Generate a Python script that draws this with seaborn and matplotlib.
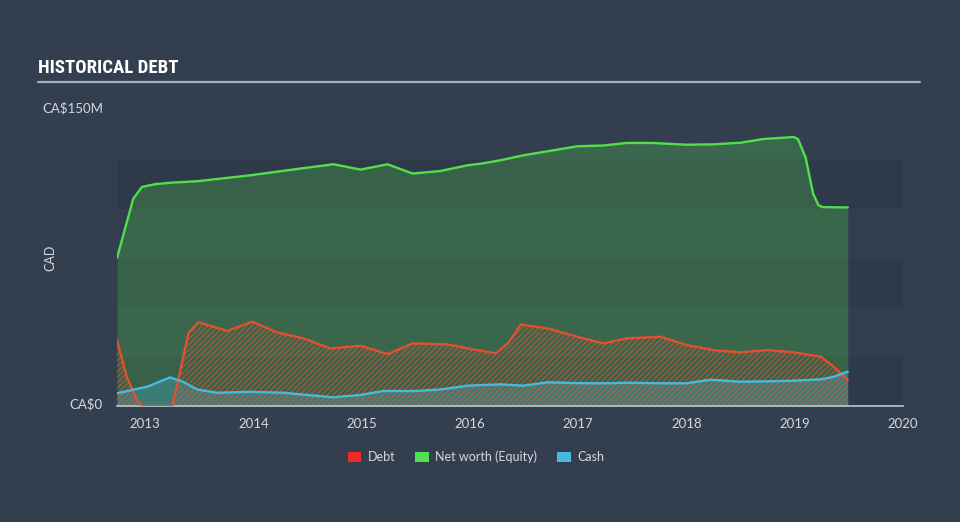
import matplotlib
matplotlib.use("Agg")
import matplotlib.pyplot as plt
from matplotlib.patches import Patch
import seaborn as sns
import pandas as pd

# ---- data (CA$ millions, decimal years) ----
nw_x = [2012.74, 2012.82, 2012.89, 2012.97, 2013.1, 2013.25, 2013.48, 2013.97, 2014.43, 2014.74,
        2014.99, 2015.24, 2015.47, 2015.73, 2015.98, 2016.1, 2016.28, 2016.49, 2016.99,
        2017.23, 2017.45, 2017.69, 2018.0, 2018.25, 2018.5, 2018.71, 2018.99, 2019.03, 2019.1,
        2019.17, 2019.22, 2019.26, 2019.49]
nw_y = [75, 91, 105, 111, 112.5, 113.2, 113.9, 116.9, 120.3, 122.5,
        119.8, 122.5, 117.8, 119.1, 122, 122.8, 124.5, 127, 131.6,
        132, 133.3, 133.3, 132.4, 132.6, 133.4, 135.3, 136.3, 135.3, 126,
        107.6, 101.7, 100.8, 100.6]

debt_x = [2012.74, 2012.83, 2012.93, 2012.98, 2013.25, 2013.32, 2013.4, 2013.49, 2013.76,
          2013.99, 2014.22, 2014.46, 2014.71, 2014.99, 2015.24, 2015.47, 2015.79, 2016.03,
          2016.24, 2016.35, 2016.47, 2016.72, 2016.99, 2017.23, 2017.45, 2017.76, 2018.0,
          2018.25, 2018.5, 2018.75, 2018.99, 2019.24, 2019.36, 2019.49]
debt_y = [33.4, 14.8, 2.2, 0, 0, 16.7, 36.9, 42.5, 38.1,
          42.7, 37.3, 34.3, 29.2, 30.5, 26.3, 31.7, 31.2, 28.7,
          26.7, 31.7, 41.3, 39.3, 35.1, 31.7, 34.3, 35.1, 30.9,
          28.3, 27.2, 28.3, 27.2, 25, 19.9, 13.2]

cash_x = [2012.74, 2013.02, 2013.23, 2013.35, 2013.48, 2013.66, 2013.97, 2014.28, 2014.49,
          2014.74, 2014.99, 2015.2, 2015.51, 2015.73, 2015.98, 2016.28, 2016.49, 2016.72,
          2016.99, 2017.27, 2017.45, 2017.76, 2018.0, 2018.22, 2018.5, 2018.75, 2018.99,
          2019.24, 2019.36, 2019.49]
cash_y = [6.4, 9.8, 14.5, 12.3, 8.4, 6.7, 7.2, 6.7, 5.6,
          4.4, 5.6, 7.6, 7.6, 8.4, 10.3, 11, 10.3, 12,
          11.6, 11.5, 11.8, 11.5, 11.5, 13.3, 12.3, 12.5, 12.8,
          13.5, 14.8, 17.4]

year_ticks = [2013, 2014, 2015, 2016, 2017, 2018, 2019, 2020]
series_names = ["Debt", "Net worth (Equity)", "Cash"]

# ---- style ----
BG = "#333f4f"
DARK_BAND = "#2e3949"
LIGHT_BAND = "#323e4e"
TXT = "#d4d8dd"
C_DEBT = "#e2502f"
C_NW = "#52e04a"
C_CASH = "#4ab9de"
LEG_COLORS = ["#ee2a2a", "#4fe04f", "#48b9de"]

sns.set_theme(style="dark")
plt.rcParams["font.family"] = ["Lato", "DejaVu Sans"]
plt.rcParams["hatch.linewidth"] = 0.9

fig = plt.figure(figsize=(9.6, 5.22), dpi=100, facecolor=BG)
ax = fig.add_axes([117 / 960, 116 / 522, 786 / 960, 296 / 522])
ax.set_facecolor(BG)

# horizontal bands
for i, lo in enumerate(range(0, 125, 25)):
    ax.axhspan(lo, lo + 25, color=DARK_BAND if i % 2 == 0 else LIGHT_BAND, zorder=0, lw=0)

df_nw = pd.DataFrame({"x": nw_x, "y": nw_y})
df_debt = pd.DataFrame({"x": debt_x, "y": debt_y})
df_cash = pd.DataFrame({"x": cash_x, "y": cash_y})

# fills
ax.fill_between(nw_x, 0, nw_y, color=C_NW, alpha=0.25, lw=0, zorder=1)
ax.fill_between(cash_x, 0, cash_y, color=C_CASH, alpha=0.3, lw=0, zorder=2)
ax.fill_between(debt_x, 0, debt_y, facecolor="none", edgecolor=(0.89, 0.33, 0.2, 0.65),
                hatch="//////", lw=0, zorder=2)

# lines
for df, c, z in [(df_nw, C_NW, 4), (df_debt, C_DEBT, 4), (df_cash, C_CASH, 5)]:
    sns.lineplot(data=df, x="x", y="y", ax=ax, color=c, lw=1.7, estimator=None, sort=False,
                 zorder=z, solid_joinstyle="round", solid_capstyle="round")

ax.set_xlim(2012.74, 2020.0)
ax.set_ylim(0, 150)
ax.set_xticks(year_ticks)
ax.set_xticklabels([str(y) for y in year_ticks], color=TXT, fontsize=9.5)
ax.tick_params(axis="x", direction="out", length=8, width=1, color="#b8bec6", pad=1)
ax.set_yticks([])
ax.set_xlabel("")
ax.set_ylabel("")
for s in ["top", "right", "left"]:
    ax.spines[s].set_visible(False)
ax.spines["bottom"].set_color("#c0c6cc")
ax.spines["bottom"].set_linewidth(1.2)

# y labels
fig.text(103 / 960, 1 - 108 / 522, "CA$150M", ha="right", va="center", color=TXT, fontsize=9.5)
fig.text(103 / 960, 1 - 404 / 522, "CA$0", ha="right", va="center", color=TXT, fontsize=9.5)
fig.text(50 / 960, 1 - 258 / 522, "CAD", ha="center", va="center", rotation=90, color=TXT, fontsize=9)

# title
fig.text(38 / 960, 1 - 68 / 522, "HISTORICAL DEBT", ha="left", va="center", color="white",
         fontsize=13.5, fontweight="bold", fontstretch="condensed",
         family=["Liberation Sans Narrow", "Roboto Condensed", "Open Sans Condensed",
                 "DejaVu Sans Condensed", "DejaVu Sans"])
fig.add_artist(plt.Line2D([38 / 960, 920 / 960], [1 - 82 / 522, 1 - 82 / 522],
                          color="#a8aeb5", lw=1.6, transform=fig.transFigure))

# legend
handles = [Patch(facecolor=c, edgecolor="none", label=n) for c, n in zip(LEG_COLORS, series_names)]
leg = fig.legend(handles=handles, loc="center", bbox_to_anchor=(476 / 960, 1 - 457 / 522), ncol=3,
                 frameon=False, fontsize=9, handlelength=1.1, handleheight=0.9, handletextpad=0.5,
                 columnspacing=1.6)
for t in leg.get_texts():
    t.set_color(TXT)

fig.savefig("out.png", dpi=100, facecolor=BG)
